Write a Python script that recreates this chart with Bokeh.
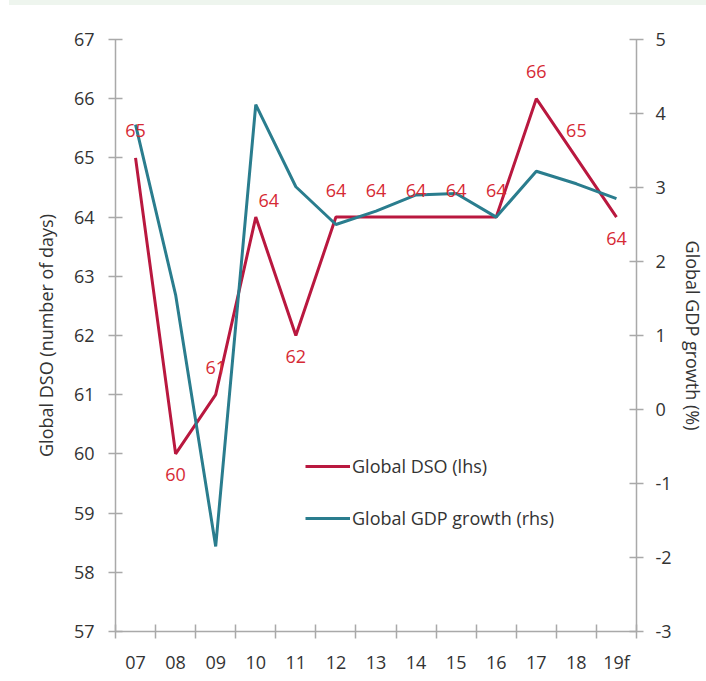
from bokeh.plotting import figure
from bokeh.models import Range1d, LinearAxis, FixedTicker, ColumnDataSource, Legend, LegendItem, Div
from bokeh.layouts import column
from bokeh.embed import file_html
from bokeh.resources import INLINE

# ---- data ----
years = ["07", "08", "09", "10", "11", "12", "13", "14", "15", "16", "17", "18", "19f"]
dso = [65, 60, 61, 64, 62, 64, 64, 64, 64, 64, 66, 65, 64]
gdp = [3.85, 1.55, -1.85, 4.12, 3.01, 2.5, 2.68, 2.9, 2.92, 2.6, 3.22, 3.05, 2.85]
left_ticks = list(range(57, 68))
right_ticks = list(range(-3, 6))
label_place = ["above", "below", "above", "right", "below", "above", "above",
               "above", "above", "above", "above", "above", "below"]

RED_LINE = "#b9183f"
RED_TEXT = "#d62a35"
TEAL = "#2a7d8e"
AXIS = "#a9a9a9"
TXT = "#333333"
FONT = "Open Sans"
FS = "18px"

n = len(years)
xs = [i + 0.5 for i in range(n)]

p = figure(frame_width=521, frame_height=592, output_backend="svg", toolbar_location=None,
           x_range=Range1d(0, n), y_range=Range1d(57, 67),
           min_border_left=115, min_border_right=70, min_border_top=34, min_border_bottom=50)
p.xgrid.visible = False
p.ygrid.visible = False
p.outline_line_color = None
p.background_fill_color = "white"

p.extra_y_ranges = {"gdp": Range1d(-3, 5)}

# lines
r_dso = p.line(xs, dso, line_color=RED_LINE, line_width=3)
r_gdp = p.line(xs, gdp, line_color=TEAL, line_width=3, y_range_name="gdp")

# labels
offs = {"above": (0, -27), "below": (0, 21), "right": (13, -17)}
src = ColumnDataSource(dict(
    x=xs, y=dso, t=[str(v) for v in dso],
    xo=[offs[k][0] for k in label_place], yo=[offs[k][1] for k in label_place]))
p.text(x="x", y="y", text="t", source=src, x_offset="xo", y_offset="yo",
       text_align="center", text_baseline="middle", text_color=RED_TEXT,
       text_font_size=FS, text_font={"value": FONT})

# axes styling
def style_axis(ax):
    ax.axis_line_color = AXIS
    ax.axis_line_width = 1.5
    ax.major_tick_line_color = AXIS
    ax.major_tick_line_width = 1.5
    ax.minor_tick_line_color = AXIS
    ax.minor_tick_line_width = 1.5
    ax.major_label_text_font = FONT
    ax.major_label_text_font_size = FS
    ax.major_label_text_color = TXT
    ax.axis_label_text_font = FONT
    ax.axis_label_text_font_size = FS
    ax.axis_label_text_font_style = "normal"
    ax.axis_label_text_color = TXT

# left
ly = p.yaxis[0]
style_axis(ly)
ly.ticker = FixedTicker(ticks=left_ticks, minor_ticks=[])
ly.major_tick_in = 7
ly.major_tick_out = 7
ly.major_label_standoff = 14
ly.axis_label = "Global DSO (number of days)"
ly.axis_label_standoff = 13

# right
ry = LinearAxis(y_range_name="gdp", axis_label="Global GDP growth (%)")
style_axis(ry)
ry.ticker = FixedTicker(ticks=right_ticks, minor_ticks=[])
ry.major_label_overrides = {t: str(t) for t in right_ticks}
ry.major_tick_in = 7
ry.major_tick_out = 7
ry.major_label_standoff = 12
ry.axis_label_standoff = 6
p.add_layout(ry, "right")

# bottom
bx = p.xaxis[0]
style_axis(bx)
bx.ticker = FixedTicker(ticks=xs, minor_ticks=list(range(0, n + 1)))
bx.major_label_overrides = {x: y for x, y in zip(xs, years)}
bx.major_tick_in = 0
bx.major_tick_out = 0
bx.minor_tick_in = 7
bx.minor_tick_out = 7
bx.major_label_standoff = 11

legend = Legend(items=[LegendItem(label="Global DSO (lhs)", renderers=[r_dso]),
                       LegendItem(label="Global GDP growth (rhs)", renderers=[r_gdp])],
                location=(190, 101))
legend.border_line_color = None
legend.background_fill_alpha = 0
legend.padding = 0
legend.margin = 0
legend.spacing = 28
legend.glyph_width = 45
legend.glyph_height = 20
legend.label_standoff = 2
legend.label_text_font = FONT
legend.label_text_font_size = FS
legend.label_text_color = TXT
p.add_layout(legend, "center")

strip = Div(width=697, height=5, margin=(0, 0, 0, 9), styles={"background-color": "#eef5ee"})
layout = column(strip, p, spacing=0)

open("out.html", "w").write(file_html(layout, INLINE))
